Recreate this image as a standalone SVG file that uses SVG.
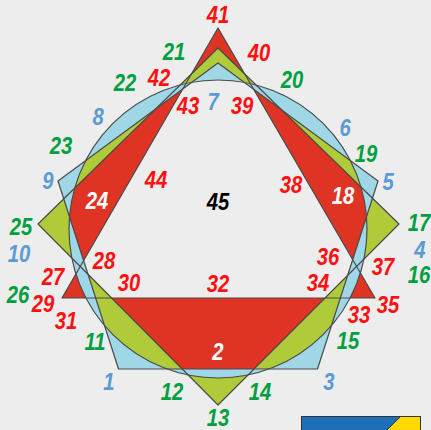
<svg xmlns="http://www.w3.org/2000/svg" width="431" height="430" viewBox="0 0 431 430">
<style>
.lbl{font-family:"Liberation Sans",Arial,sans-serif;font-weight:bold;font-style:italic;font-size:23px;text-anchor:middle}
.lbl text{transform-box:fill-box;transform-origin:center;transform:scaleX(0.88)}
.r{fill:#FF1010}.g{fill:#00A040}.b{fill:#5B9BD5}.k{fill:#000}.w{fill:#fff}
.edge{fill:none;stroke:#4a4a4a;stroke-width:1.2;stroke-linejoin:round}
</style>
<defs>
<polygon id="T" points="218,28 375,298 62,298"/>
<polygon id="S" points="218,48 399,224 218,405 38,224"/>
<polygon id="P" points="218,63 378,181 317.5,369 118.5,369 58,181"/>
<circle id="C" cx="218" cy="229" r="149"/>
<clipPath id="cC"><circle cx="218" cy="229" r="149"/></clipPath>
<clipPath id="cP"><polygon points="218,63 378,181 317.5,369 118.5,369 58,181"/></clipPath>
<clipPath id="cS"><polygon points="218,48 399,224 218,405 38,224"/></clipPath>
</defs>
<rect width="431" height="430" fill="#EDEDED"/>
<g id="fills">
<use href="#T" fill="#DF3424"/>
<use href="#S" fill="#B0CB3A"/>
<use href="#P" fill="#A0D7E7"/>
<use href="#C" fill="#A0D7E7"/>
<g clip-path="url(#cC)">
<use href="#P" fill="#B0CB3A"/>
<g clip-path="url(#cP)">
<use href="#S" fill="#DF3424"/>
<g clip-path="url(#cS)">
<use href="#T" fill="#EDEDED"/>
</g>
</g>
</g>
</g>
<g id="outlines" class="edge">
<use href="#T"/>
<use href="#S"/>
<use href="#P"/>
<use href="#C"/>
</g>
<g id="labels" class="lbl">
<text class="r" x="218" y="23">41</text>
<text class="r" x="259" y="61">40</text>
<text class="r" x="159" y="86">42</text>
<text class="r" x="188" y="114">43</text>
<text class="r" x="242" y="114">39</text>
<text class="r" x="156" y="188">44</text>
<text class="r" x="291" y="193">38</text>
<text class="r" x="104" y="269">28</text>
<text class="r" x="53" y="285">27</text>
<text class="r" x="129" y="291">30</text>
<text class="r" x="218" y="292">32</text>
<text class="r" x="318" y="291">34</text>
<text class="r" x="328" y="265">36</text>
<text class="r" x="383" y="275">37</text>
<text class="r" x="43" y="312">29</text>
<text class="r" x="66" y="329">31</text>
<text class="r" x="359" y="323">33</text>
<text class="r" x="388" y="313">35</text>
<text class="g" x="174" y="60">21</text>
<text class="g" x="125" y="91">22</text>
<text class="g" x="292" y="88">20</text>
<text class="g" x="61" y="154">23</text>
<text class="g" x="366" y="162">19</text>
<text class="g" x="21" y="235">25</text>
<text class="g" x="419" y="231">17</text>
<text class="g" x="419" y="283">16</text>
<text class="g" x="18" y="303">26</text>
<text class="g" x="95" y="350">11</text>
<text class="g" x="348" y="349">15</text>
<text class="g" x="172" y="400">12</text>
<text class="g" x="260" y="400">14</text>
<text class="g" x="218" y="426">13</text>
<text class="b" x="213" y="110">7</text>
<text class="b" x="98" y="125">8</text>
<text class="b" x="345" y="136">6</text>
<text class="b" x="48" y="189">9</text>
<text class="b" x="388" y="190">5</text>
<text class="b" x="19" y="262">10</text>
<text class="b" x="420" y="258">4</text>
<text class="b" x="109" y="390">1</text>
<text class="b" x="329" y="390">3</text>
<text class="k" x="218" y="210">45</text>
<text class="w" x="97" y="209">24</text>
<text class="w" x="343" y="204">18</text>
<text class="w" x="218" y="360">2</text>
</g>
<g id="icon">
<rect x="301.5" y="416.5" width="119" height="20" fill="#1E6EB8"/>
<polygon points="400,417 420,417 420,431 386,431" fill="#FFD800"/>
<line x1="400" y1="417" x2="386" y2="431" stroke="#333" stroke-width="1"/>
<rect x="301.5" y="416.5" width="119" height="20" fill="none" stroke="#333" stroke-width="1"/>
</g>
</svg>
